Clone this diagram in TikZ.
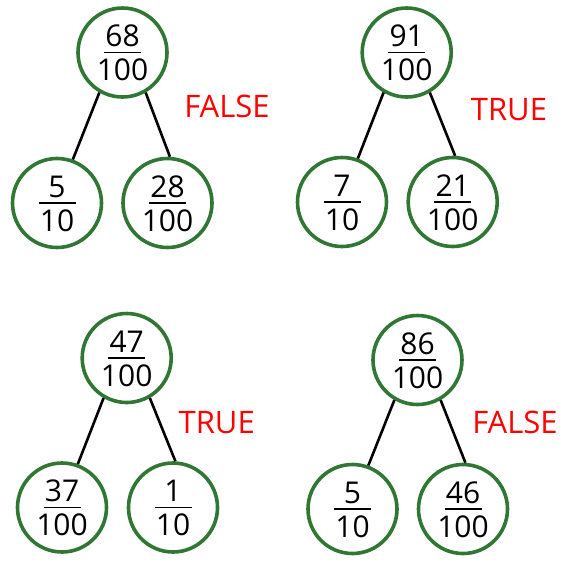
\documentclass[tikz,border=0pt]{standalone}
\usepackage{fontspec}
\setmainfont{Open Sans}
\usepackage{tikz}
\usetikzlibrary{calc}
\definecolor{ringgreen}{RGB}{49,119,52}

\begin{document}
\begin{tikzpicture}[
    x=1pt, y=-1pt,
    ring/.style   ={draw=ringgreen, line width=3.6pt, circle, minimum size=89pt, inner sep=0pt},
    num/.style    ={anchor=base, inner sep=0pt, font=\fontsize{30}{30}\selectfont},
    bar/.style    ={line width=1.5pt},
    branch/.style ={line width=2.6pt},
    verdict/.style={text=red, inner sep=0pt, font=\fontsize{31}{31}\selectfont}
]
\useasboundingbox (0,0) rectangle (567,560);

% --- Circles with fractions ---
\foreach \nm/\x/\y/\a/\b in {
    t1/122.5/52.5/68/100, l1/57/203/5/10,    r1/167.5/203/28/100,
    t2/406.7/52.5/91/100, l2/342/202/7/10,   r2/452.7/202/21/100,
    t3/126.7/358/47/100,  l3/62/507.5/37/100, r3/173/507.5/1/10,
    t4/417.5/360/86/100,  l4/352.5/509/5/10,  r4/463/509/46/100}{
  \node[ring] (\nm) at (\x,\y) {};
  \node[num] (\nm a) at ($(\nm)+(0,-6)$) {\a};
  \draw[bar] ($(\nm)+(-18.5,0)$) -- ($(\nm)+(18.5,0)$);
  \node[num] (\nm b) at ($(\nm)+(0,28)$) {\b};
}

% --- Branches ---
\foreach \i in {1,2,3,4}{
  \draw[branch] (t\i.240) -- (l\i.70);
  \draw[branch] (t\i.300) -- (r\i.87);
}

% --- Verdicts ---
\node[verdict] (v1) at (227,106)   {FALSE};
\node[verdict] (v2) at (509,110)   {TRUE};
\node[verdict] (v3) at (216.7,423) {TRUE};
\node[verdict] (v4) at (515,422.5) {FALSE};

\end{tikzpicture}
\end{document}
